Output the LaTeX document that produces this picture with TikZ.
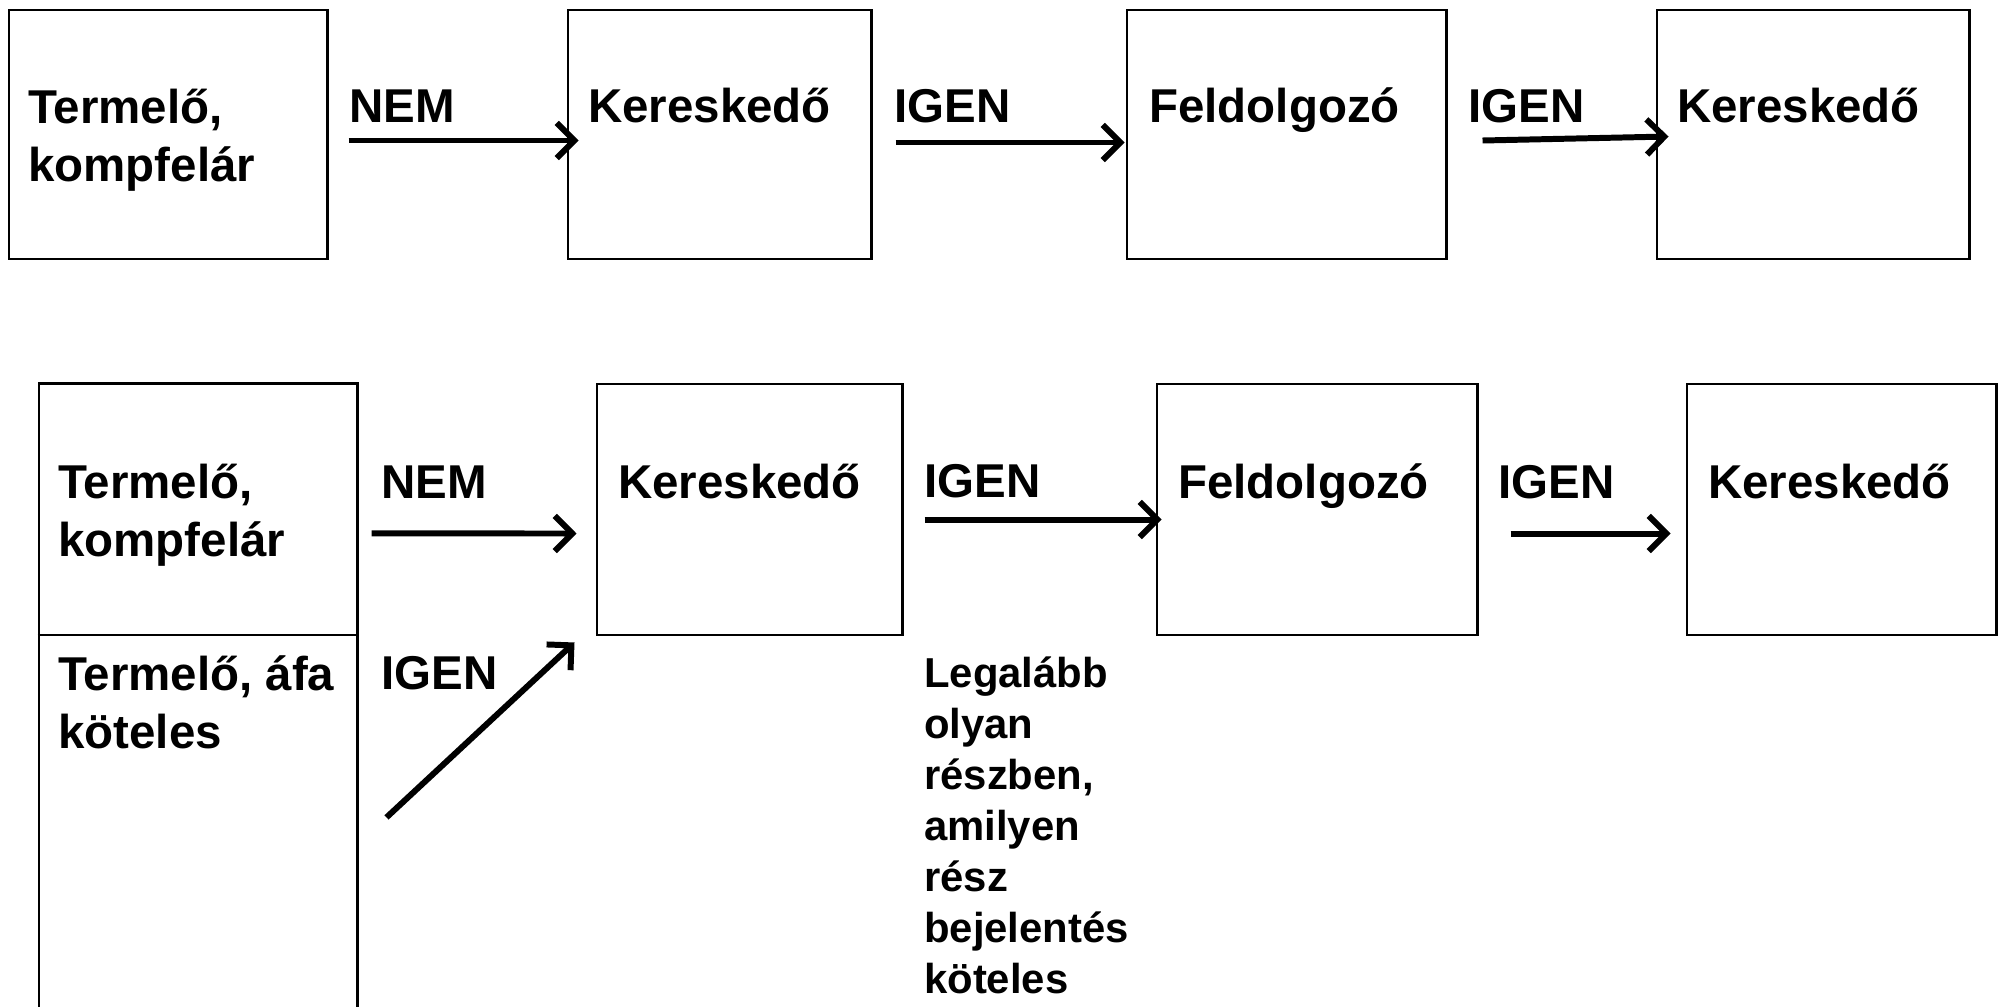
\documentclass[tikz,border=0pt]{standalone}
\usepackage{fontspec}
\setmainfont{Liberation Sans}
\usetikzlibrary{arrows.meta}

\begin{document}
\begin{tikzpicture}[x=0.01cm,y=-0.01cm,
    box/.style={draw,line width=0.8pt,inner sep=0pt},
    txt/.style={anchor=base west,inner sep=0pt,align=left,font=\fontsize{13.5}{16.6}\selectfont\bfseries},
    small/.style={txt,font=\fontsize{11.9}{14.5}\selectfont\bfseries},
    arr/.style={line width=1.7pt,-{Straight Barb[length=5pt,width=10pt]}}]
      \useasboundingbox (0,0) rectangle (1998,1007);
      \clip (0,0) rectangle (1998,1007);
      \node[box,minimum width=3.18cm,minimum height=2.49cm] (termA) at (168,134.5) {};
      \node[box,minimum width=3.03cm,minimum height=2.49cm] (kerA) at (719.5,134.5) {};
      \node[box,minimum width=3.19cm,minimum height=2.49cm] (felA) at (1286.5,134.5) {};
      \node[box,minimum width=3.12cm,minimum height=2.49cm] (kerAA) at (1813,134.5) {};
      \node[box,minimum width=3.18cm,minimum height=6.36cm] (termB) at (198,702) {};
      \node[box,minimum width=3.05cm,minimum height=2.51cm] (kerB) at (749.5,509.5) {};
      \node[box,minimum width=3.20cm,minimum height=2.51cm] (felB) at (1317,509.5) {};
      \node[box,minimum width=3.09cm,minimum height=2.51cm] (kerBB) at (1841.5,509.5) {};
      \draw[line width=0.8pt] (termB.west |- 0,635) -- (termB.east |- 0,635);
      % multi-line texts sit on their last baseline
      \node[txt] (termAt) at ([shift={(20,173)}]termA.north west) {Termelő,\\kompfelár};
      \node[txt] (nemA) at ([shift={(20,114)}]termA.north east) {NEM};
      \node[txt] (kerAt) at ([shift={(21,114)}]kerA.north west) {Kereskedő};
      \node[txt] (igenA) at ([shift={(21,114)}]kerA.north east) {IGEN};
      \node[txt] (felAt) at ([shift={(23,114)}]felA.north west) {Feldolgozó};
      \node[txt] (igenAA) at ([shift={(20,114)}]felA.north east) {IGEN};
      \node[txt] (kerAAt) at ([shift={(21,114)}]kerAA.north west) {Kereskedő};
      \node[txt] (termBt) at ([shift={(20,174)}]termB.north west) {Termelő,\\kompfelár};
      \node[txt] (afaBt) at ([shift={(20,366)}]termB.north west) {Termelő, áfa\\köteles};
      \node[txt] (nemB) at ([shift={(22,116)}]termB.north east) {NEM};
      \node[txt] (igenBB) at ([shift={(22,307)}]termB.north east) {IGEN};
      \node[txt] (kerBt) at ([shift={(22,116)}]kerB.north west) {Kereskedő};
      \node[txt] (igenB) at ([shift={(20,115)}]kerB.north east) {IGEN};
      \node[txt] (felBt) at ([shift={(22,116)}]felB.north west) {Feldolgozó};
      \node[txt] (igenBBB) at ([shift={(19,116)}]felB.north east) {IGEN};
      \node[txt] (kerBBt) at ([shift={(22,116)}]kerBB.north west) {Kereskedő};
      \node[small] (legal) at ([shift={(20,357)}]kerB.south east) {Legalább\\olyan\\részben,\\amilyen\\rész\\bejelentés\\köteles};
      \draw[arr] ([shift={(20,132)}]termA.north east) -- ([shift={(12,132)}]kerA.north west);
      \draw[arr] ([shift={(23,134)}]kerA.north east) -- ([shift={(-1,134)}]felA.north west);
      \draw[arr] ([shift={(35,132)}]felA.north east) -- ([shift={(13,128)}]kerAA.north west);
      \draw[arr] ([shift={(13,151)}]termB.north east) -- ([shift={(-19,151)}]kerB.north west);
      \draw[arr] ([shift={(28,435)}]termB.north east) -- ([shift={(-21,6)}]kerB.south west);
      \draw[arr] ([shift={(21,137)}]kerB.north east) -- ([shift={(6,137)}]felB.north west);
      \draw[arr] ([shift={(32,151)}]felB.north east) -- ([shift={(-15,151)}]kerBB.north west);
    \end{tikzpicture}
\end{document}
